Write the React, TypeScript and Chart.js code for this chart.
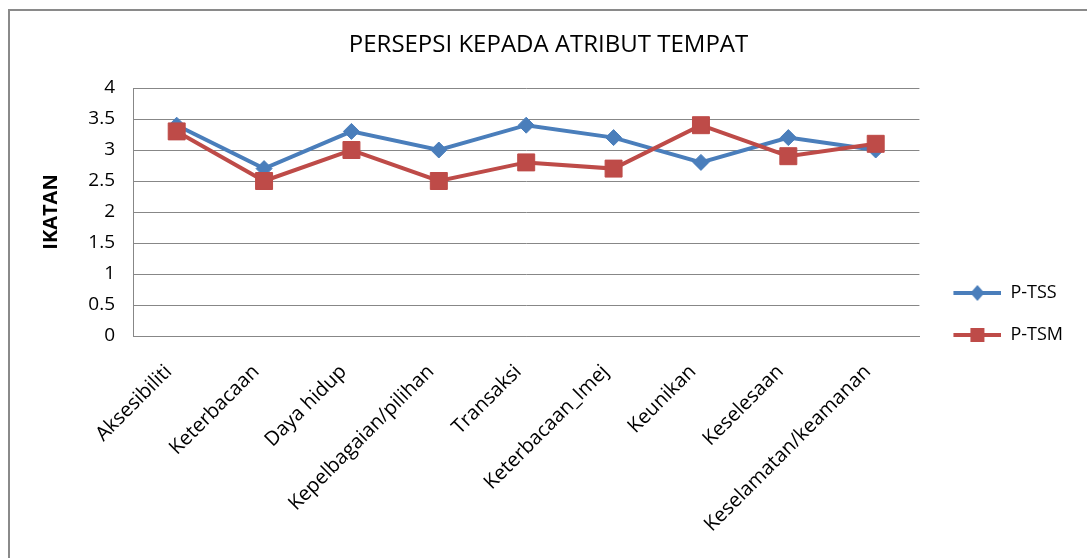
import React, { useEffect, useRef } from "react";
import { Chart, registerables } from "chart.js";

Chart.register(...registerables);

const categories = [
  "Aksesibiliti",
  "Keterbacaan",
  "Daya hidup",
  "Kepelbagaian/pilihan",
  "Transaksi",
  "Keterbacaan_Imej",
  "Keunikan",
  "Keselesaan",
  "Keselamatan/keamanan",
];
const seriesNames = ["P-TSS", "P-TSM"];
const pTSS = [3.4, 2.7, 3.3, 3.0, 3.4, 3.2, 2.8, 3.2, 3.0];
const pTSM = [3.3, 2.5, 3.0, 2.5, 2.8, 2.7, 3.4, 2.9, 3.1];
const yMin = 0;
const yMax = 4;
const yStep = 0.5;
const chartTitle = "PERSEPSI KEPADA ATRIBUT TEMPAT";
const yAxisTitle = "IKATAN";

const BLUE = "#4A7EBB";
const RED = "#BE4B48";
const GRID = "#878787";
const FONT = "'Open Sans', 'Liberation Sans', sans-serif";

const CANVAS_W = 1077;
const CANVAS_H = 606;

function makeLegendIcon(color: string, shape: "diamond" | "square") {
  const c = document.createElement("canvas");
  c.width = 58;
  c.height = 20;
  const ctx = c.getContext("2d")!;
  ctx.strokeStyle = color;
  ctx.lineWidth = 4;
  ctx.beginPath();
  ctx.moveTo(10, 10);
  ctx.lineTo(58, 10);
  ctx.stroke();
  ctx.fillStyle = color;
  ctx.beginPath();
  if (shape === "diamond") {
    ctx.moveTo(34, 2);
    ctx.lineTo(41, 10);
    ctx.lineTo(34, 18);
    ctx.lineTo(27, 10);
    ctx.closePath();
  } else {
    ctx.rect(27, 3, 14, 14);
  }
  ctx.fill();
  return c;
}

export default function App() {
  const ref = useRef<HTMLCanvasElement | null>(null);

  useEffect(() => {
    if (!ref.current) return;
    const icons = [makeLegendIcon(BLUE, "diamond"), makeLegendIcon(RED, "square")];
    const chart = new Chart(ref.current, {
      type: "line",
      data: {
        labels: categories,
        datasets: [
          {
            label: seriesNames[0],
            data: pTSS,
            borderColor: BLUE,
            backgroundColor: BLUE,
            borderWidth: 4,
            pointStyle: "rectRot",
            pointRadius: 8,
            pointBackgroundColor: BLUE,
            pointBorderColor: BLUE,
            pointBorderWidth: 1,
            tension: 0,
            order: 1,
          },
          {
            label: seriesNames[1],
            data: pTSM,
            borderColor: RED,
            backgroundColor: RED,
            borderWidth: 4,
            pointStyle: "rect",
            pointRadius: 12,
            pointBackgroundColor: RED,
            pointBorderColor: RED,
            pointBorderWidth: 1,
            tension: 0,
            order: 0,
          },
        ],
      },
      options: {
        responsive: false,
        animation: false,
        layout: { padding: { left: 14, right: 14, top: 0, bottom: 0 } },
        plugins: {
          tooltip: { enabled: false },
          title: {
            display: true,
            text: chartTitle,
            color: "#000",
            font: { family: FONT, size: 24, weight: "normal", lineHeight: 1 },
            padding: { top: 22, bottom: 31 },
          },
          legend: {
            display: true,
            position: "right",
            labels: {
              usePointStyle: true,
              pointStyleWidth: 58,
              padding: 24,
              color: "#000",
              font: { family: FONT, size: 18 },
              generateLabels: (ch: any) =>
                ch.data.datasets.map((ds: any, i: number) => ({
                  text: ds.label,
                  pointStyle: icons[i],
                  fillStyle: ds.borderColor,
                  strokeStyle: ds.borderColor,
                  lineWidth: 0,
                  hidden: false,
                  datasetIndex: i,
                  fontColor: "#000",
                })),
            },
          },
        },
        scales: {
          x: {
            offset: true,
            grid: { display: false, drawTicks: false },
            border: { display: true, color: GRID, width: 1 },
            ticks: {
              autoSkip: false,
              minRotation: 45,
              maxRotation: 45,
              padding: 29,
              labelOffset: -8,
              color: "#000",
              font: { family: FONT, size: 20, lineHeight: 0.5 },
            },
            afterFit: (scale: any) => {
              scale.height = CANVAS_H - 325;
            },
          },
          y: {
            min: yMin,
            max: yMax,
            ticks: {
              stepSize: yStep,
              padding: 18,
              color: "#000",
              font: { family: FONT, size: 19 },
              callback: (v: any) => String(Number(v)),
            },
            grid: { color: GRID, lineWidth: 1, drawTicks: false },
            border: { display: true, color: GRID, width: 1 },
            title: {
              display: true,
              text: yAxisTitle,
              color: "#000",
              font: { family: FONT, size: 20, weight: "bold", lineHeight: 1.2 },
              padding: { top: 15, bottom: 0 },
            },
            afterFit: (scale: any) => {
              scale.width = 109;
            },
          },
        },
      },
    });
    return () => chart.destroy();
  }, []);

  return (
    <div
      style={{
        position: "absolute",
        left: 8,
        top: 9,
        width: 1079,
        height: 549,
        boxSizing: "border-box",
        borderLeft: "2px solid #8a8a8a",
        borderTop: "2px solid #8a8a8a",
        overflow: "hidden",
        background: "#fff",
      }}
    >
      <canvas ref={ref} width={CANVAS_W} height={CANVAS_H} style={{ display: "block" }} />
    </div>
  );
}
